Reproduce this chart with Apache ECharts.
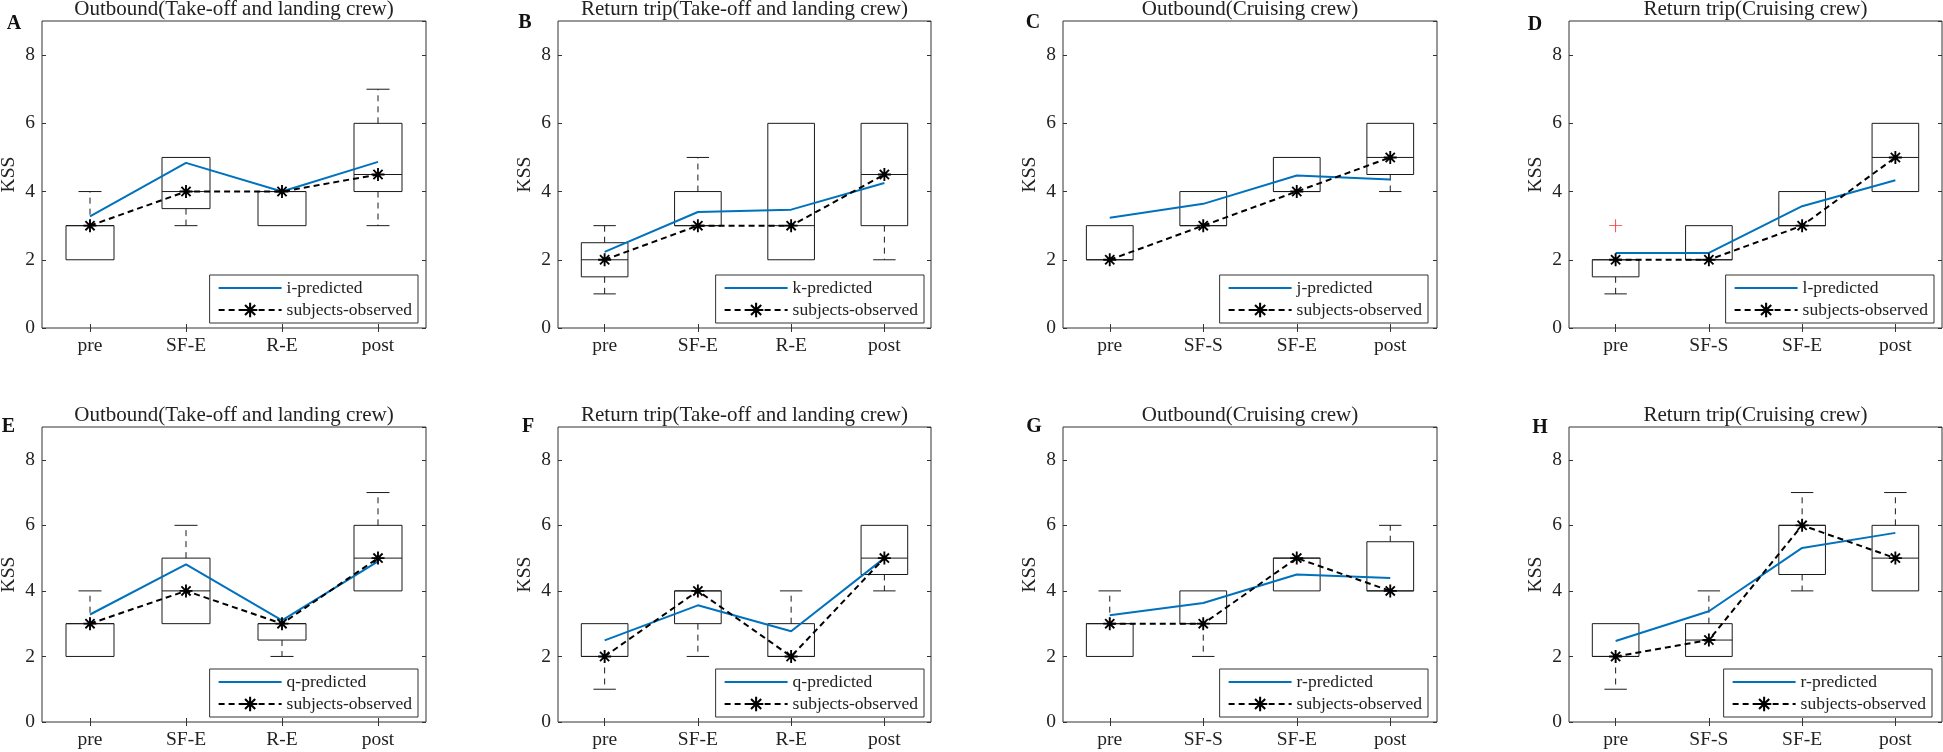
<!DOCTYPE html>
<html>
<head>
<meta charset="utf-8">
<script src="https://cdn.jsdelivr.net/npm/echarts@6/dist/echarts.min.js"></script>
<style>
html,body{margin:0;padding:0;background:#fff;}
#chart{width:1943px;height:752px;}
</style>
</head>
<body>
<div id="chart"></div>
<script>
// ---------- data ----------
const catsTakeoff = ['pre', 'SF-E', 'R-E', 'post'];
const catsCruise = ['pre', 'SF-S', 'SF-E', 'post'];

const titleOutTL = 'Outbound(Take-off and landing crew)';
const titleRetTL = 'Return trip(Take-off and landing crew)';
const titleOutCr = 'Outbound(Cruising crew)';
const titleRetCr = 'Return trip(Cruising crew)';

const letters = ['A', 'B', 'C', 'D', 'E', 'F', 'G', 'H'];
const predNames = ['i-predicted', 'k-predicted', 'j-predicted', 'l-predicted',
                   'q-predicted', 'q-predicted', 'r-predicted', 'r-predicted'];
const obsName = 'subjects-observed';

// box statistics: [min, Q1, median, Q3, max]
const boxA = [[2, 2, 3, 3, 4], [3, 3.5, 4, 5, 5], [3, 3, 4, 4, 4], [3, 4, 4.5, 6, 7]];
const boxB = [[1, 1.5, 2, 2.5, 3], [3, 3, 3, 4, 5], [2, 2, 3, 6, 6], [2, 3, 4.5, 6, 6]];
const boxC = [[2, 2, 2, 3, 3], [3, 3, 3, 4, 4], [4, 4, 4, 5, 5], [4, 4.5, 5, 6, 6]];
const boxD = [[1, 1.5, 2, 2, 2], [2, 2, 2, 3, 3], [3, 3, 3, 4, 4], [4, 4, 5, 6, 6]];
const boxE = [[2, 2, 3, 3, 4], [3, 3, 4, 5, 6], [2, 2.5, 3, 3, 3], [4, 4, 5, 6, 7]];
const boxF = [[1, 2, 2, 3, 3], [2, 3, 4, 4, 4], [2, 2, 2, 3, 4], [4, 4.5, 5, 6, 6]];
const boxG = [[2, 2, 3, 3, 4], [2, 3, 3, 4, 4], [4, 4, 5, 5, 5], [4, 4, 4, 5.5, 6]];
const boxH = [[1, 2, 2, 3, 3], [2, 2, 2.5, 3, 4], [4, 4.5, 6, 6, 7], [4, 4, 5, 6, 7]];

const outlierD = [[0, 3]];

const predA = [3.27, 4.84, 4.00, 4.87];
const predB = [2.23, 3.40, 3.47, 4.25];
const predC = [3.23, 3.64, 4.47, 4.35];
const predD = [2.20, 2.20, 3.57, 4.33];
const predE = [3.28, 4.81, 3.10, 4.90];
const predF = [2.49, 3.56, 2.77, 5.00];
const predG = [3.26, 3.63, 4.50, 4.39];
const predH = [2.47, 3.38, 5.31, 5.77];

const obsA = [3, 4, 4, 4.5];
const obsB = [2, 3, 3, 4.5];
const obsC = [2, 3, 4, 5];
const obsD = [2, 2, 3, 5];
const obsE = [3, 4, 3, 5];
const obsF = [2, 4, 2, 5];
const obsG = [3, 3, 5, 4];
const obsH = [2, 2.5, 6, 5];

const yTickValues = [0, 2, 4, 6, 8];

// ---------- layout ----------
const FONT = 'Liberation Serif';
const TXT = '#222';
const AX = '#333';

const panels = [
  {cats: catsTakeoff, title: titleOutTL, box: boxA, pred: predA, obs: obsA, grid: [42, 21, 384, 307], lx: 14, ly: 24, lr: 1525, lb: 429},
  {cats: catsTakeoff, title: titleRetTL, box: boxB, pred: predB, obs: obsB, grid: [558, 21, 373, 307], lx: 525, ly: 23, lr: 1019, lb: 429},
  {cats: catsCruise, title: titleOutCr, box: boxC, pred: predC, obs: obsC, grid: [1063, 21, 374, 307], lx: 1033, ly: 23, lr: 515, lb: 429},
  {cats: catsCruise, title: titleRetCr, box: boxD, pred: predD, obs: obsD, grid: [1569, 21, 373, 307], lx: 1535, ly: 25, lr: 9, lb: 429, outliers: outlierD},
  {cats: catsTakeoff, title: titleOutTL, box: boxE, pred: predE, obs: obsE, grid: [42, 427, 384, 295], lx: 8.5, ly: 427, lr: 1525, lb: 35},
  {cats: catsTakeoff, title: titleRetTL, box: boxF, pred: predF, obs: obsF, grid: [558, 427, 373, 295], lx: 528, ly: 427, lr: 1019, lb: 35},
  {cats: catsCruise, title: titleOutCr, box: boxG, pred: predG, obs: obsG, grid: [1063, 427, 374, 295], lx: 1034, ly: 427, lr: 515, lb: 35},
  {cats: catsCruise, title: titleRetCr, box: boxH, pred: predH, obs: obsH, grid: [1569, 427, 373, 295], lx: 1540, ly: 428, lr: 11, lb: 35}
];

// asterisk marker (4 bars through the centre)
function barPath(x1, y1, x2, y2, w) {
  const dx = x2 - x1, dy = y2 - y1, L = Math.hypot(dx, dy);
  const nx = -dy / L * w, ny = dx / L * w;
  const p = [[x1 + nx, y1 + ny], [x2 + nx, y2 + ny], [x2 - nx, y2 - ny], [x1 - nx, y1 - ny]];
  return 'M' + p.map(q => q[0].toFixed(2) + ',' + q[1].toFixed(2)).join('L') + 'Z';
}
const d = 8 / Math.SQRT2;
const starPath = 'path://' +
  barPath(0, -8, 0, 8, 1.15) + barPath(-8, 0, 8, 0, 1.15) +
  barPath(-d, -d, d, d, 1.15) + barPath(d, -d, -d, d, 1.15);
const plusPath = 'path://' + barPath(0, -8, 0, 8, 0.55) + barPath(-8, 0, 8, 0, 0.55);

function renderBox(params, api) {
  const idx = api.value(0);
  const mn = api.value(1), q1 = api.value(2), md = api.value(3), q3 = api.value(4), mx = api.value(5);
  const band = api.size([1, 0])[0];
  const hw = band * 0.25, cw = band * 0.12;
  const cx = api.coord([idx, md])[0];
  const y = v => api.coord([idx, v])[1];
  const st = {stroke: '#1a1a1a', lineWidth: 1, fill: null};
  const ch = [];
  ch.push({type: 'rect', shape: {x: cx - hw, y: y(q3), width: 2 * hw, height: y(q1) - y(q3)},
           style: {stroke: '#1a1a1a', lineWidth: 1, fill: 'none'}});
  ch.push({type: 'line', shape: {x1: cx - hw, y1: y(md), x2: cx + hw, y2: y(md)}, style: st});
  if (mx > q3) {
    ch.push({type: 'line', shape: {x1: cx, y1: y(q3), x2: cx, y2: y(mx)}, style: Object.assign({}, st, {lineDash: [6, 5]})});
    ch.push({type: 'line', shape: {x1: cx - cw, y1: y(mx), x2: cx + cw, y2: y(mx)}, style: st});
  }
  if (mn < q1) {
    ch.push({type: 'line', shape: {x1: cx, y1: y(q1), x2: cx, y2: y(mn)}, style: Object.assign({}, st, {lineDash: [6, 5]})});
    ch.push({type: 'line', shape: {x1: cx - cw, y1: y(mn), x2: cx + cw, y2: y(mn)}, style: st});
  }
  return {type: 'group', children: ch};
}

const option = {
  animation: false,
  backgroundColor: '#fff',
  textStyle: {fontFamily: FONT},
  grid: [], xAxis: [], yAxis: [], series: [], legend: [], graphic: []
};

const axisFont = {fontFamily: FONT, fontSize: 19.5, color: TXT};

panels.forEach((p, i) => {
  option.grid.push({left: p.grid[0], top: p.grid[1], width: p.grid[2], height: p.grid[3],
    show: true, borderColor: AX, borderWidth: 1, containLabel: false, outerBoundsMode: 'none'});
  const tick = {show: true, inside: true, length: 4, lineStyle: {color: AX, width: 1}};
  option.xAxis.push({type: 'category', gridIndex: i, data: p.cats, position: 'bottom',
    axisLine: {show: false}, axisTick: Object.assign({alignWithLabel: true}, tick),
    axisLabel: Object.assign({margin: 8}, axisFont), splitLine: {show: false}});
  option.xAxis.push({type: 'category', gridIndex: i, data: p.cats, position: 'top',
    axisLine: {show: false}, axisTick: Object.assign({alignWithLabel: true}, tick),
    axisLabel: {show: false}, splitLine: {show: false}});
  option.yAxis.push({type: 'value', gridIndex: i, min: 0, max: 9, interval: 2, position: 'left',
    axisLine: {show: false}, axisTick: tick,
    axisLabel: Object.assign({margin: 7, showMaxLabel: false,
      formatter: v => (yTickValues.indexOf(v) >= 0 ? String(v) : '')}, axisFont),
    splitLine: {show: false},
    name: 'KSS', nameLocation: 'middle', nameGap: 23, nameRotate: 90,
    nameTextStyle: {fontFamily: FONT, fontSize: 19.5, color: TXT}});
  option.yAxis.push({type: 'value', gridIndex: i, min: 0, max: 9, interval: 2, position: 'right',
    axisLine: {show: false}, axisTick: tick, axisLabel: {show: false}, splitLine: {show: false}});

  option.series.push({type: 'custom', name: 'box' + i, xAxisIndex: 2 * i, yAxisIndex: 2 * i,
    renderItem: renderBox, encode: {x: 0, y: [1, 2, 3, 4, 5]}, z: 2,
    data: p.box.map((b, k) => [k].concat(b)), silent: true});
  option.series.push({type: 'line', name: predNames[i], xAxisIndex: 2 * i, yAxisIndex: 2 * i,
    data: p.pred, symbol: 'none', color: '#0072BD', z: 3,
    lineStyle: {color: '#0072BD', width: 2}});
  option.series.push({type: 'line', name: obsName, xAxisIndex: 2 * i, yAxisIndex: 2 * i,
    data: p.obs, symbol: starPath, symbolSize: 13, showSymbol: true, color: '#000', z: 4,
    itemStyle: {color: '#000'}, lineStyle: {color: '#000', width: 2, type: [6, 4]}});
  if (p.outliers) {
    option.series.push({type: 'scatter', name: 'outlier' + i, xAxisIndex: 2 * i, yAxisIndex: 2 * i,
      data: p.outliers, symbol: plusPath, symbolSize: 13, itemStyle: {color: '#ff0000'}, z: 4});
  }

  option.legend.push({
    right: p.lr, bottom: p.lb, orient: 'vertical',
    data: [{name: predNames[i], icon: 'path://M0,0L63,0L63,2L0,2Z'}, obsName],
    itemWidth: 63, itemHeight: 18, itemGap: 4, padding: [4, 6, 4, 8],
    borderColor: AX, borderWidth: 1, borderRadius: 0, backgroundColor: '#fff',
    selectedMode: false,
    textStyle: {fontFamily: FONT, fontSize: 17.5, color: TXT}
  });

  option.graphic.push({type: 'text', x: p.grid[0] + p.grid[2] / 2, y: p.grid[1] - 11.5,
    style: {text: p.title, align: 'center', verticalAlign: 'middle',
      font: '21px "' + FONT + '"', fill: TXT}});
  option.graphic.push({type: 'text', x: p.lx, y: p.ly,
    style: {text: letters[i], align: 'center', verticalAlign: 'middle',
      font: 'bold 20px "' + FONT + '"', fill: '#111'}});
});

const chart = echarts.init(document.getElementById('chart'));
chart.setOption(option);
</script>
</body>
</html>
